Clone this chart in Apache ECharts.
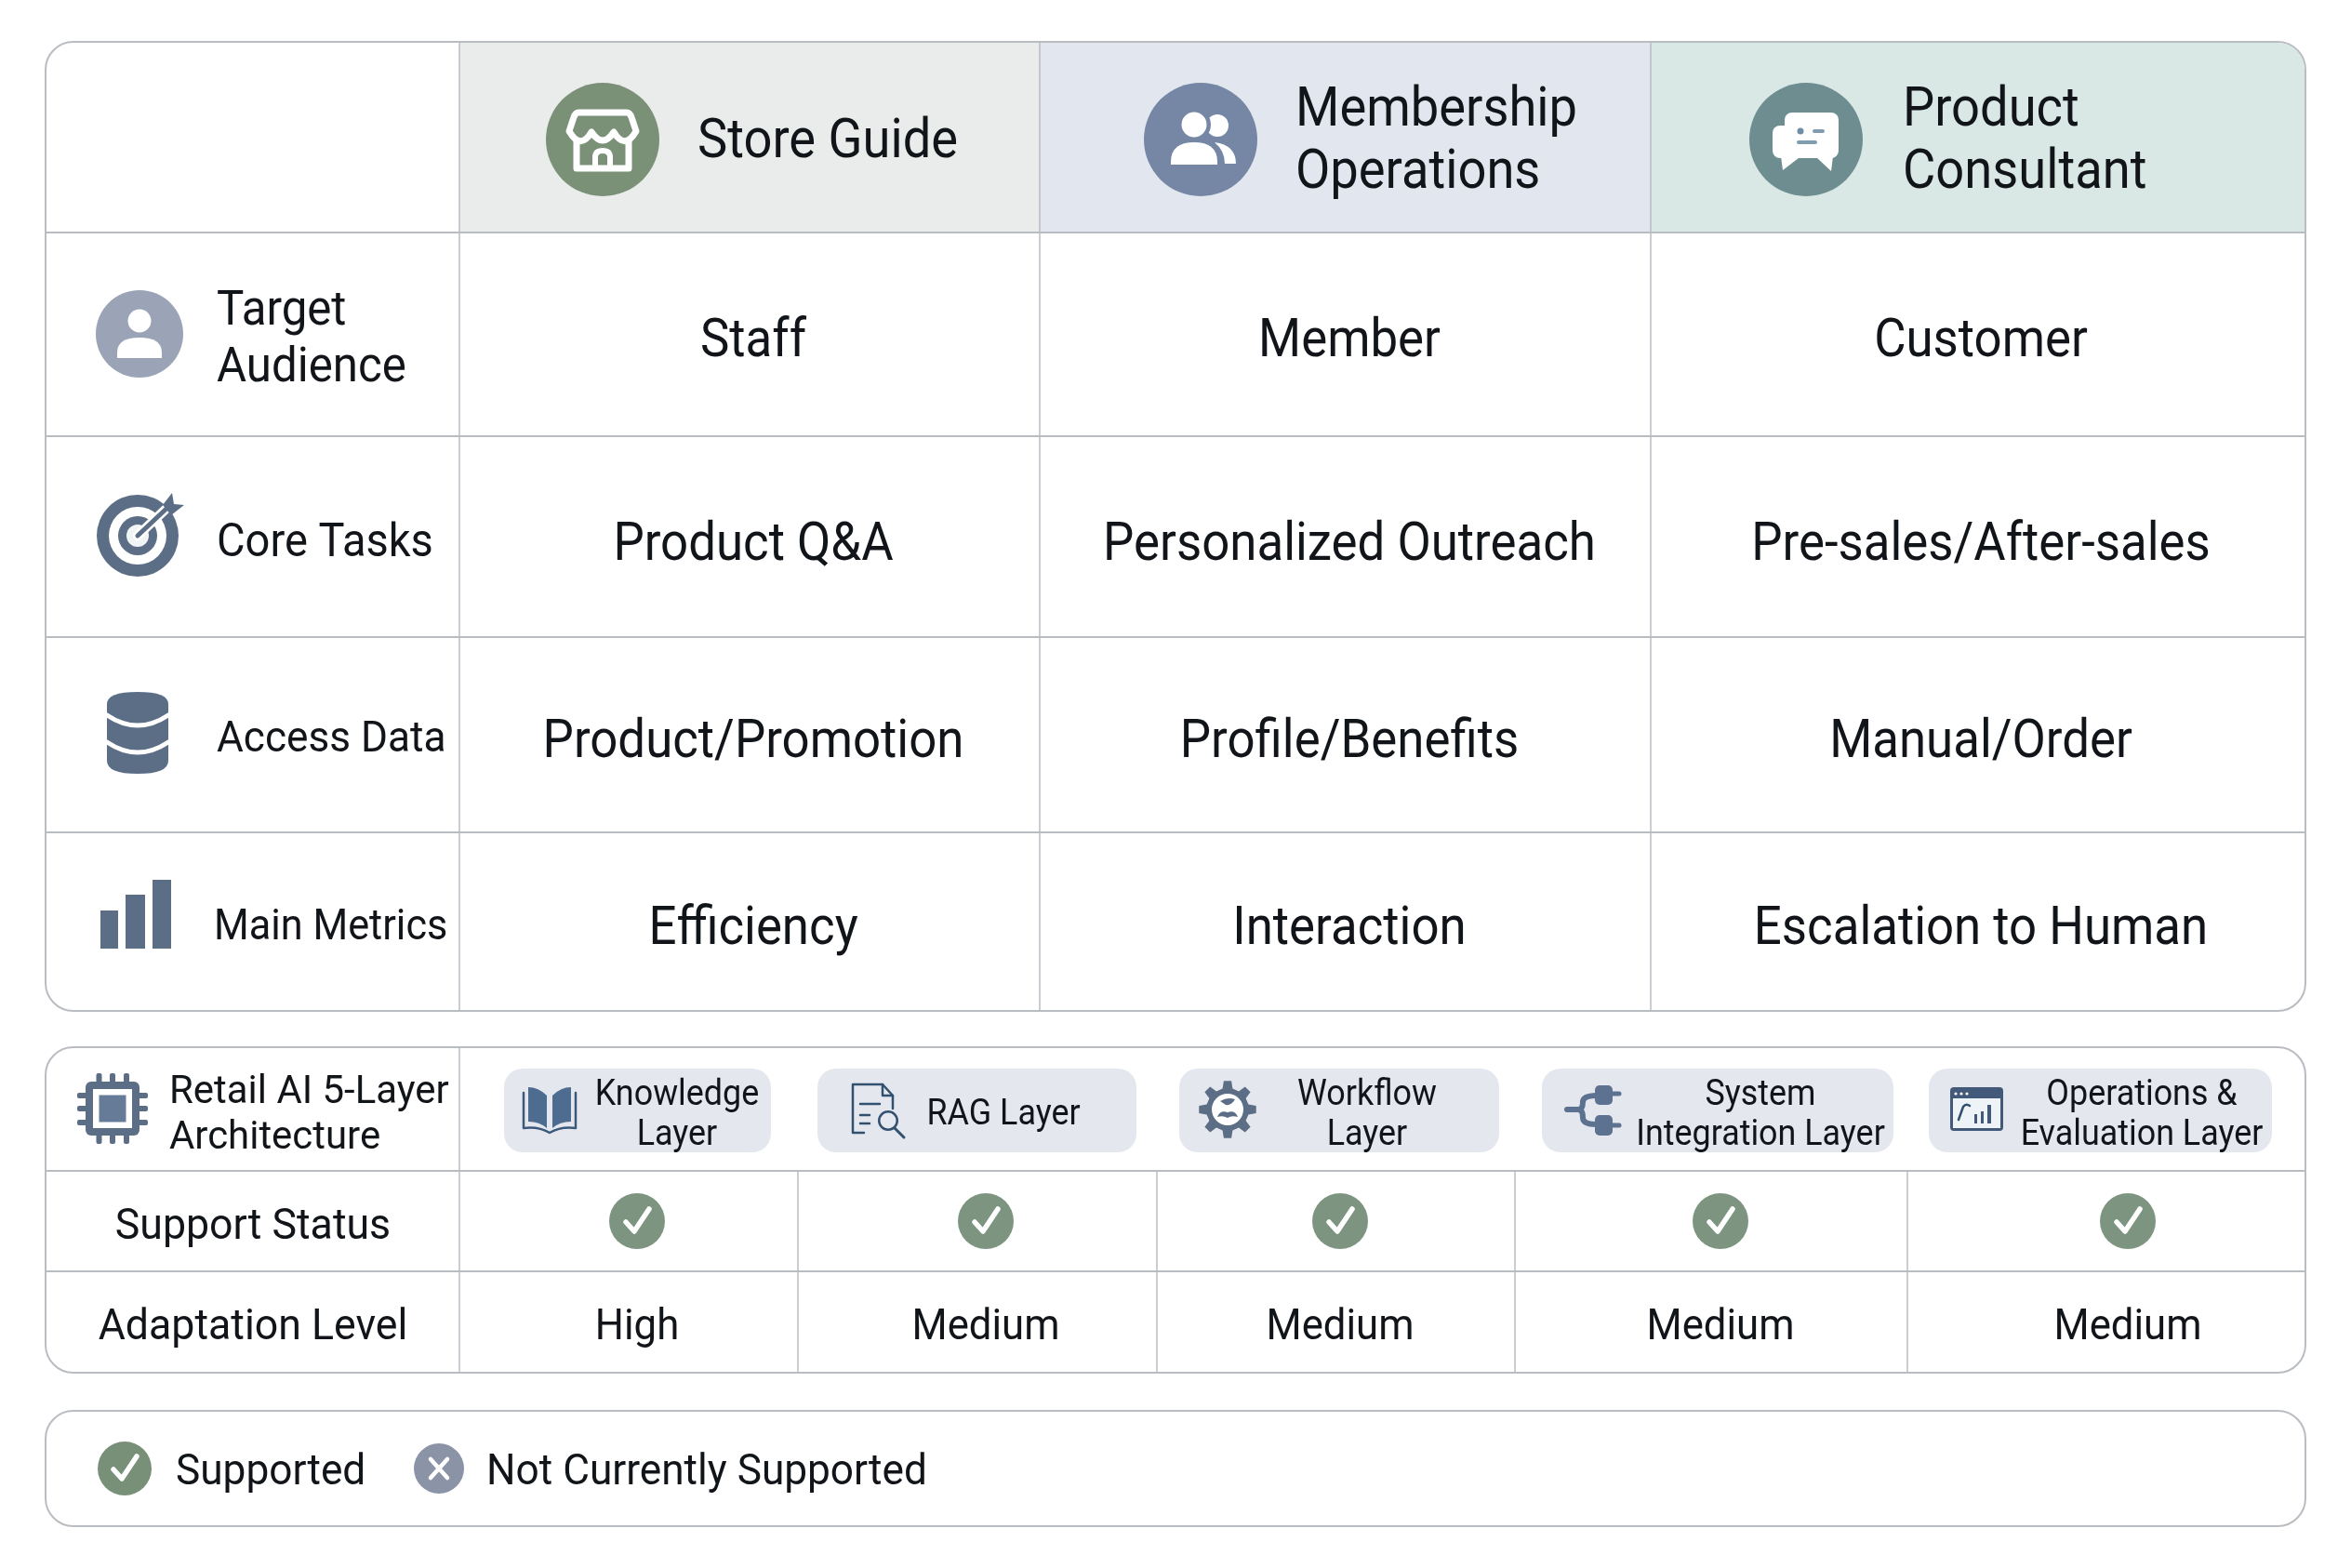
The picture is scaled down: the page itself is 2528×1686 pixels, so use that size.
<!DOCTYPE html>
<html><head><meta charset="utf-8">
<style>html,body{margin:0;padding:0;background:#fff}#c{width:2528px;height:1686px}</style>
<script src="https://cdn.jsdelivr.net/npm/echarts@6/dist/echarts.min.js"></script>
</head><body><div id="c"></div>
<script>
// ---- content ----
const roles = ['Store Guide', 'Membership\nOperations', 'Product\nConsultant'];
const rowLabels = ['Target\nAudience', 'Core Tasks', 'Access Data', 'Main Metrics'];
const storeGuide = ['Staff', 'Product Q&A', 'Product/Promotion', 'Efficiency'];
const membershipOps = ['Member', 'Personalized Outreach', 'Profile/Benefits', 'Interaction'];
const productConsultant = ['Customer', 'Pre-sales/After-sales', 'Manual/Order', 'Escalation to Human'];
const archTitle = 'Retail AI 5-Layer\nArchitecture';
const layers = ['Knowledge\nLayer', 'RAG Layer', 'Workflow\nLayer', 'System\nIntegration Layer', 'Operations &\nEvaluation Layer'];
const supportLabel = 'Support Status';
const adaptLabel = 'Adaptation Level';
const supportStatus = [1, 1, 1, 1, 1];
const adaptationLevel = ['High', 'Medium', 'Medium', 'Medium', 'Medium'];
const legendLabels = ['Supported', 'Not Currently Supported'];

// ---- layout ----
const L = 49, R = 2479;
const topRows = [45, 250, 469, 685, 895, 1087];
const topCols = [494, 1118, 1775];
const botRows = [1126, 1259, 1367, 1476];
const botCols = [494, 858, 1244, 1629, 2051];
const legendBox = [1517, 1641];
const roleFill = ['#e9ecea', '#e2e6ee', '#d9e7e5'];
const roleCircle = ['#7a9178', '#7587a5', '#6d8d90'];
const roleIconX = [648, 1291, 1942];
const roleTextX = [750, 1393, 2046];
const colCenter = [810, 1451, 2130];
const rowCenter = [368, 587, 799, 1000];
const rowLabelX = [233, 233, 233, 230];
const rowLabelY = [367, 585, 796, 998];
const rowLabelSize = [51, 50, 47, 47];
const rowLabelScale = [0.965, 0.94, 0.94, 0.92];
const chipX = [[542, 829], [879, 1222], [1268, 1612], [1658, 2036], [2074, 2443]];
const chipTextX = [728, 1079, 1470, 1893, 2303];
const layerCenter = [685, 1060, 1441, 1850, 2288];
const LINE = '#b9bdc2', INK = '#111418', SLATE = '#5b6e86', NAVY = '#32506f', GREEN = '#7d9580';
const FONT = 'Roboto, "Noto Sans", sans-serif';

// ---- element helpers (local pixel coordinates inside a group) ----
const circ = (cx, cy, r, fill) => ({type:'circle', shape:{cx, cy, r}, style:{fill}});
const box = (x, y, w, h, fill, r) => ({type:'rect', shape:{x, y, width:w, height:h, r:r||0}, style:{fill}});
const fillP = (d, fill) => ({type:'path', shape:{pathData:d}, style:{fill}});
const strokeP = (d, stroke, lw) => ({type:'path', shape:{pathData:d}, style:{fill:'none', stroke, lineWidth:lw, lineCap:'round', lineJoin:'round'}});
const label = (text, size, align, sx, lh) => ({type:'group', scaleX:sx||1, children:[{type:'text', style:{text, x:0, y:0, fontSize:size, fontFamily:FONT, fill:INK, align, verticalAlign:'middle', lineHeight:lh||size*1.2}}]});

function gearPath(rOut, rIn, n) {
  let d = '';
  const step = 2 * Math.PI / n;
  for (let i = 0; i < n; i++) {
    const a = i * step - Math.PI / 2;
    const pts = [[rIn, a - step*0.30], [rOut, a - step*0.17], [rOut, a + step*0.17], [rIn, a + step*0.30]];
    pts.forEach((p, j) => {
      const x = (p[0]*Math.cos(p[1])).toFixed(1), y = (p[0]*Math.sin(p[1])).toFixed(1);
      d += ((i === 0 && j === 0) ? 'M' : 'L') + x + ' ' + y + ' ';
    });
  }
  return d + 'Z';
}

// ---- icons ----
const W = '#ffffff';
const icons = {
  store: [circ(0,0,61,roleCircle[0]),
    strokeP('M-26 -29 L26 -29 Q29 -29 31 -24 L36 -9 Q24 12 12 -8 Q0 10 -12 -8 Q-24 12 -36 -9 L-31 -24 Q-29 -29 -26 -29 Z', W, 7),
    strokeP('M-28 2 L-28 31 L28 31 L28 2', W, 7),
    strokeP('M-8 31 L-8 19 Q-8 12 0 12 Q8 12 8 19 L8 31', W, 6)],
  people: [circ(0,0,61,roleCircle[1]),
    circ(18,-15,12,W), circ(-7,-16,18,roleCircle[1]), circ(-7,-16,13.5,W),
    fillP('M15 3 Q38 6 38 26 L26 26 Q26 12 15 3 Z', W),
    fillP('M-32 27 L-32 24 Q-32 3 -7 3 Q18 3 18 24 L18 27 Z', W)],
  chat: [circ(0,0,61,roleCircle[2]),
    box(-23,-29,58,49,W,8), box(-36,-15,30,35,W,8),
    fillP('M-27 18 L-25 33 L-8 20 Z', W), fillP('M12 20 L27 34 L29 18 Z', W),
    circ(-6,-9,3.5,'#6f8ea3'), box(7,-11,13,4,'#7f9cb0',2), box(-10,1,22,4,'#7f9cb0',2)],
  person: [circ(0,0,47,'#9ba3b6'), circ(0,-14,12.5,W),
    fillP('M-24 26 L-24 20 Q-24 4 0 4 Q24 4 24 20 L24 26 Z', W)],
  target: [circ(0,0,44,SLATE), circ(0,0,31,W), circ(0,0,21,SLATE), circ(0,0,12,'#f2f5f8'),
    strokeP('M0 0 L36 -34', W, 10), strokeP('M0 0 L33 -31', SLATE, 5),
    fillP('M27 -33 L37 -46 L39 -34 L50 -33 L36 -22 Z', SLATE)],
  db: [fillP('M-33 -31 Q-33 -44 0 -44 Q33 -44 33 -31 L33 30 Q33 44 0 44 Q-33 44 -33 30 Z', SLATE),
    strokeP('M-33 -19 Q0 3 33 -19', W, 5), strokeP('M-33 10 Q0 32 33 10', W, 5)],
  bars: [box(-38,33,19,41,SLATE), box(-11,16,21,58,SLATE), box(18,0,20,74,SLATE)],
  chip: [box(-17.5,-38,6,76,SLATE,2), box(-3,-38,6,76,SLATE,2), box(12,-38,6,76,SLATE,2),
    box(-38,-17,76,6,SLATE,2), box(-38,-3,76,6,SLATE,2), box(-38,12,76,6,SLATE,2),
    box(-29,-29,58,58,SLATE,6), box(-21,-21,42,42,W), box(-14.5,-14.5,29,29,'#667b97')],
  book: [fillP('M-3 -15 Q-12 -24 -23 -24 L-23 13 Q-11 13 -3 20 Z', '#4e6c90'),
    fillP('M3 -15 Q12 -24 23 -24 L23 13 Q11 13 3 20 Z', '#4e6c90'),
    strokeP('M-28 -18 L-28 20 Q-12 18 0 25 Q12 18 28 20 L28 -18', '#3c587a', 2.5)],
  doc: [strokeP('M-14 24 L-26 24 L-26 -28 L6 -28 L17 -16 L17 -2', NAVY, 2.5),
    strokeP('M6 -28 L6 -16 L17 -16', NAVY, 2.5),
    strokeP('M-18 -7 L3 -7', NAVY, 2.5), strokeP('M-18 5 L-8 5', NAVY, 2.5), strokeP('M-18 14 L-8 14', NAVY, 2.5),
    circ(12,11,11,NAVY), circ(12,11,8.5,'#e5e9ef'), strokeP('M19 19 L29 29', NAVY, 3)],
  gear: [fillP(gearPath(31,23,8), SLATE), circ(0,0,17,W),
    fillP('M-8 -9 Q0 -14 8 -11 Q4 -4 -2 -5 Z', SLATE),
    fillP('M-11 8 Q-8 0 0 3 Q8 0 11 8 Q4 6 0 9 Q-5 6 -11 8 Z', SLATE)],
  plug: [strokeP('M-30 0 L-18 0 Q-13 0 -13 -8 Q-13 -15 2 -15', '#5c7290', 6),
    strokeP('M-18 0 Q-13 0 -13 9 Q-13 16 2 16', '#5c7290', 6),
    box(0,-26,19,21,'#5c7290',5), box(0,6,19,22,'#5c7290',5),
    strokeP('M16 -17 L26 -17', '#5c7290', 5), strokeP('M16 17 L26 17', '#5c7290', 5)],
  dash: [box(-28,-24,57,47,'#42597a',4), box(-25,-12,51,32,'#eef3f8'),
    circ(-22,-17,1.6,W), circ(-16,-17,1.6,W), circ(-10,-17,1.6,W),
    strokeP('M-19 11 L-14 -3 Q-11 -7 -7 -4', '#32506f', 2.5),
    box(-2,5,3,10,'#42597a'), box(5,2,3,13,'#42597a'), box(12,-5,4,20,'#42597a')],
  check: [circ(0,0,30,GREEN), strokeP('M-12 1 L-3 11 L13 -13', W, 5.5)],
  checkL: [circ(0,0,29,'#789078'), strokeP('M-12 1 L-3 11 L13 -13', W, 5.5)],
  cross: [circ(0,0,27,'#8b94a6'), strokeP('M-9 -10 L9 10', W, 4.5), strokeP('M9 -10 L-9 10', W, 4.5)]
};

// ---- one flat list of marks, built from the arrays above ----
const items = [];
const place = (x, y, children) => items.push({x, y, children});

// panels
const panel = (t, b) => ({type:'rect', shape:{x:L, y:t, width:R-L, height:b-t, r:30}, style:{fill:'#fff', stroke:LINE, lineWidth:2}});
place(0, 0, [panel(topRows[0], topRows[5]), panel(botRows[0], botRows[3]), panel(legendBox[0], legendBox[1])]);

// role header fills
roles.forEach((r, i) => {
  const x0 = topCols[i], x1 = i < 2 ? topCols[i+1] : R;
  place(0, 0, [{type:'rect', shape:{x:x0, y:topRows[0]+1, width:x1-x0-(i===2?1:0), height:topRows[1]-topRows[0]-1, r:i===2?[0,29,0,0]:0}, style:{fill:roleFill[i]}}]);
});

// grid lines
const hl = (y, x0, x1, lw) => ({type:'line', shape:{x1:x0, y1:y, x2:x1, y2:y}, style:{stroke:LINE, lineWidth:lw||2}});
const vl = (x, y0, y1) => ({type:'line', shape:{x1:x, y1:y0, x2:x, y2:y1}, style:{stroke:LINE, lineWidth:1.5}});
topRows.slice(1, 5).forEach(y => place(0, 0, [hl(y, L, R)]));
topCols.forEach(x => place(0, 0, [vl(x, topRows[0], topRows[5])]));
botRows.slice(1, 3).forEach(y => place(0, 0, [hl(y, L, R)]));
place(0, 0, [vl(botCols[0], botRows[0], botRows[3])]);
botCols.slice(1).forEach(x => place(0, 0, [vl(x, botRows[1], botRows[3])]));

// role headers
const roleIcons = ['store', 'people', 'chat'];
roles.forEach((r, i) => {
  place(roleIconX[i], 150, icons[roleIcons[i]]);
  place(roleTextX[i], 154, [label(r, 59, 'left', 0.92, 67)]);
});

// row labels + values
const rowIcons = [['person',150,359], ['target',148,576], ['db',148,788], ['bars',146,946]];
rowIcons.forEach(([k,x,y]) => place(x, y, icons[k]));
rowLabels.forEach((t, i) => place(rowLabelX[i], rowLabelY[i], [label(t, rowLabelSize[i], 'left', rowLabelScale[i], 61)]));
[storeGuide, membershipOps, productConsultant].forEach((col, c) =>
  col.forEach((t, r) => place(colCenter[c], rowCenter[r], [label(t, 58, 'center', 0.91)])));

// architecture table
place(121, 1192, icons.chip);
place(182, 1200, [label(archTitle, 43, 'left', 0.975, 49)]);
const chipIcons = [['book',591,1193], ['doc',943,1194], ['gear',1320,1193], ['plug',1715,1193], ['dash',2125,1193]];
layers.forEach((t, i) => {
  place(0, 0, [box(chipX[i][0], 1149, chipX[i][1]-chipX[i][0], 90, '#e4e8ee', 20)]);
  place(chipIcons[i][1], chipIcons[i][2], icons[chipIcons[i][0]]);
  place(chipTextX[i], i === 1 ? 1199 : 1200, [label(t, 39, 'center', 0.92, 43)]);
});
place(272, 1320, [label(supportLabel, 47, 'center', 0.95)]);
place(272, 1428, [label(adaptLabel, 47, 'center', 0.95)]);
supportStatus.forEach((s, i) => { if (s) place(layerCenter[i], 1313, icons.check); });
adaptationLevel.forEach((t, i) => place(layerCenter[i], 1428, [label(t, 47, 'center', 0.93)]));

// legend
place(134, 1579, icons.checkL);
place(189, 1584, [label(legendLabels[0], 47, 'left', 0.94)]);
place(472, 1579, icons.cross);
place(523, 1584, [label(legendLabels[1], 47, 'left', 0.94)]);

// ---- chart ----
const chart = echarts.init(document.getElementById('c'), null, {renderer:'canvas', width:2528, height:1686});
chart.setOption({
  animation:false,
  backgroundColor:'#ffffff',
  grid:{left:0, right:0, top:0, bottom:0},
  xAxis:{type:'value', min:0, max:2528, show:false},
  yAxis:{type:'value', min:0, max:1686, inverse:true, show:false},
  series:[{
    type:'custom', silent:true, clip:false, coordinateSystem:'cartesian2d',
    data:items.map(it => [it.x, it.y]),
    renderItem(params, api){
      const it = items[params.dataIndex];
      const p = api.coord([it.x, it.y]);
      return {type:'group', x:p[0], y:p[1], children:it.children};
    }
  }]
});
</script></body></html>
